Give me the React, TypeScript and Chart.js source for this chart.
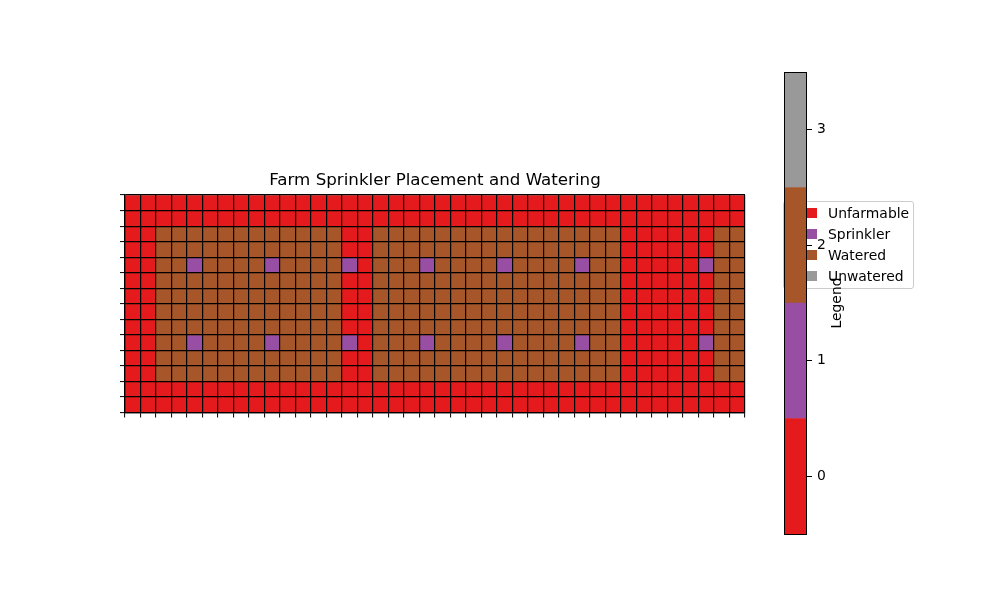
import React, { useEffect, useRef } from "react";
import { Chart, registerables } from "chart.js";

Chart.register(...registerables);

const TITLE = "Farm Sprinkler Placement and Watering";
const CATEGORY_NAMES = ["Unfarmable", "Sprinkler", "Watered", "Unwatered"];
const CATEGORY_COLORS = ["#e41a1c", "#984ea3", "#a65628", "#999999"];
const COLORBAR_TICKS = [0, 1, 2, 3];
const COLORBAR_LABEL = "Legend";
// 14 rows x 40 columns; each digit is a category code (index into CATEGORY_NAMES)
const FIELD_ROWS = [
  "0000000000000000000000000000000000000000",
  "0000000000000000000000000000000000000000",
  "0022222222222200222222222222222200000022",
  "0022222222222200222222222222222200000022",
  "0022122221222210222122221222212200000122",
  "0022222222222200222222222222222200000022",
  "0022222222222200222222222222222200000022",
  "0022222222222200222222222222222200000022",
  "0022222222222200222222222222222200000022",
  "0022122221222210222122221222212200000122",
  "0022222222222200222222222222222200000022",
  "0022222222222200222222222222222200000022",
  "0000000000000000000000000000000000000000",
  "0000000000000000000000000000000000000000",
];

const FONT = "'DejaVu Sans', sans-serif";

export default function App() {
  const mainRef = useRef<HTMLCanvasElement | null>(null);
  const cbRef = useRef<HTMLCanvasElement | null>(null);

  useEffect(() => {
    const grid = FIELD_ROWS.map((r) => r.split("").map(Number));
    const nRows = grid.length;
    const nCols = grid[0].length;
    const colLabels = Array.from({ length: nCols }, (_, i) => String(i));

    const datasets = grid.map((row, r) => ({
      label: "row " + r,
      data: row.map(() => [r, r + 1]),
      backgroundColor: row.map((v) => CATEGORY_COLORS[v]),
      borderWidth: 0,
      barPercentage: 1,
      categoryPercentage: 1,
      grouped: false,
    }));

    const gridOpts = {
      display: true,
      drawOnChartArea: true,
      drawTicks: true,
      tickLength: 5,
      color: "#000",
      lineWidth: 1.2,
      tickColor: "#000",
      tickWidth: 1,
      z: 1,
    };

    const main = new Chart(mainRef.current as HTMLCanvasElement, {
      type: "bar",
      data: { labels: colLabels, datasets: datasets as any },
      options: {
        responsive: false,
        animation: false,
        layout: { padding: { left: 125, right: 255, top: 170.5, bottom: 187.5 } },
        plugins: {
          legend: { display: false },
          tooltip: { enabled: false },
          title: {
            display: true,
            text: TITLE,
            fullSize: false,
            color: "#000",
            font: { family: FONT, size: 16.7, weight: "normal", lineHeight: 1.2 },
            padding: { top: 0, bottom: 4.5 },
          },
        },
        scales: {
          x: {
            type: "category",
            offset: true,
            grid: { ...gridOpts, offset: true },
            border: { display: true, color: "#000", width: 1.2, z: 1 },
            ticks: { display: false },
            afterFit: (s: any) => {
              s.height = 0;
            },
          },
          y: {
            type: "linear",
            reverse: true,
            min: 0,
            max: nRows,
            grid: gridOpts,
            border: { display: true, color: "#000", width: 1.2, z: 1 },
            ticks: { display: false, stepSize: 1 },
            afterFit: (s: any) => {
              s.width = 0;
            },
          },
        },
      } as any,
    });

    const cbDecor = {
      id: "cbDecor",
      afterDraw(chart: any) {
        const { ctx, chartArea: a } = chart;
        ctx.save();
        ctx.strokeStyle = "#000";
        ctx.lineWidth = 1;
        ctx.strokeRect(a.left + 0.5, a.top + 0.5, a.right - a.left - 1, a.bottom - a.top);
        ctx.translate(a.right + 30, (a.top + a.bottom) / 2);
        ctx.rotate(-Math.PI / 2);
        ctx.fillStyle = "#000";
        ctx.font = "13.9px " + FONT;
        ctx.textAlign = "center";
        ctx.textBaseline = "middle";
        ctx.fillText(COLORBAR_LABEL, 0, 0);
        ctx.restore();
      },
    };

    const cb = new Chart(cbRef.current as HTMLCanvasElement, {
      type: "bar",
      data: {
        labels: ["cb"],
        datasets: CATEGORY_COLORS.map((c, i) => ({
          label: CATEGORY_NAMES[i],
          data: [[COLORBAR_TICKS[i] - 0.5, COLORBAR_TICKS[i] + 0.5]],
          backgroundColor: c,
          borderWidth: 0,
          barPercentage: 1,
          categoryPercentage: 1,
          grouped: false,
        })) as any,
      },
      options: {
        responsive: false,
        animation: false,
        layout: { padding: { left: 784, right: 133, top: 72, bottom: 66 } },
        plugins: { legend: { display: false }, tooltip: { enabled: false } },
        scales: {
          x: { type: "category", display: false, offset: true },
          y: {
            type: "linear",
            position: "right",
            min: COLORBAR_TICKS[0] - 0.5,
            max: COLORBAR_TICKS[COLORBAR_TICKS.length - 1] + 0.5,
            afterBuildTicks: (s: any) => {
              s.ticks = COLORBAR_TICKS.map((v) => ({ value: v }));
            },
            grid: {
              display: true,
              drawOnChartArea: false,
              drawTicks: true,
              tickLength: 5,
              tickColor: "#000",
              tickWidth: 1,
            },
            border: { display: false },
            ticks: {
              color: "#000",
              padding: 5,
              font: { family: FONT, size: 13.9 },
            },
            afterFit: (s: any) => {
              s.width = 60;
            },
          },
        },
      } as any,
      plugins: [cbDecor],
    });

    return () => {
      main.destroy();
      cb.destroy();
    };
  }, []);

  const legendRowsY = [11, 32, 53, 74];

  return (
    <div style={{ position: "absolute", left: 0, top: 0, width: 1000, height: 600, background: "#fff" }}>
      <canvas
        ref={mainRef}
        width={1000}
        height={600}
        style={{ position: "absolute", left: 0, top: 0, zIndex: 0 }}
      />
      <div
        style={{
          position: "absolute",
          left: 783,
          top: 201,
          width: 131,
          height: 88,
          boxSizing: "border-box",
          border: "1px solid #cccccc",
          borderRadius: 3,
          background: "rgba(255,255,255,0.8)",
          zIndex: 1,
          fontFamily: FONT,
          fontSize: 13.9,
          color: "#000",
        }}
      >
        {CATEGORY_NAMES.map((name, i) => (
          <React.Fragment key={name}>
            <div
              style={{
                position: "absolute",
                left: 5,
                top: legendRowsY[i] - 5,
                width: 28,
                height: 10,
                background: CATEGORY_COLORS[i],
              }}
            />
            <div
              style={{
                position: "absolute",
                left: 44,
                top: legendRowsY[i] - 9,
                lineHeight: "18px",
                whiteSpace: "nowrap",
              }}
            >
              {name}
            </div>
          </React.Fragment>
        ))}
      </div>
      <canvas
        ref={cbRef}
        width={1000}
        height={600}
        style={{ position: "absolute", left: 0, top: 0, zIndex: 2 }}
      />
    </div>
  );
}
